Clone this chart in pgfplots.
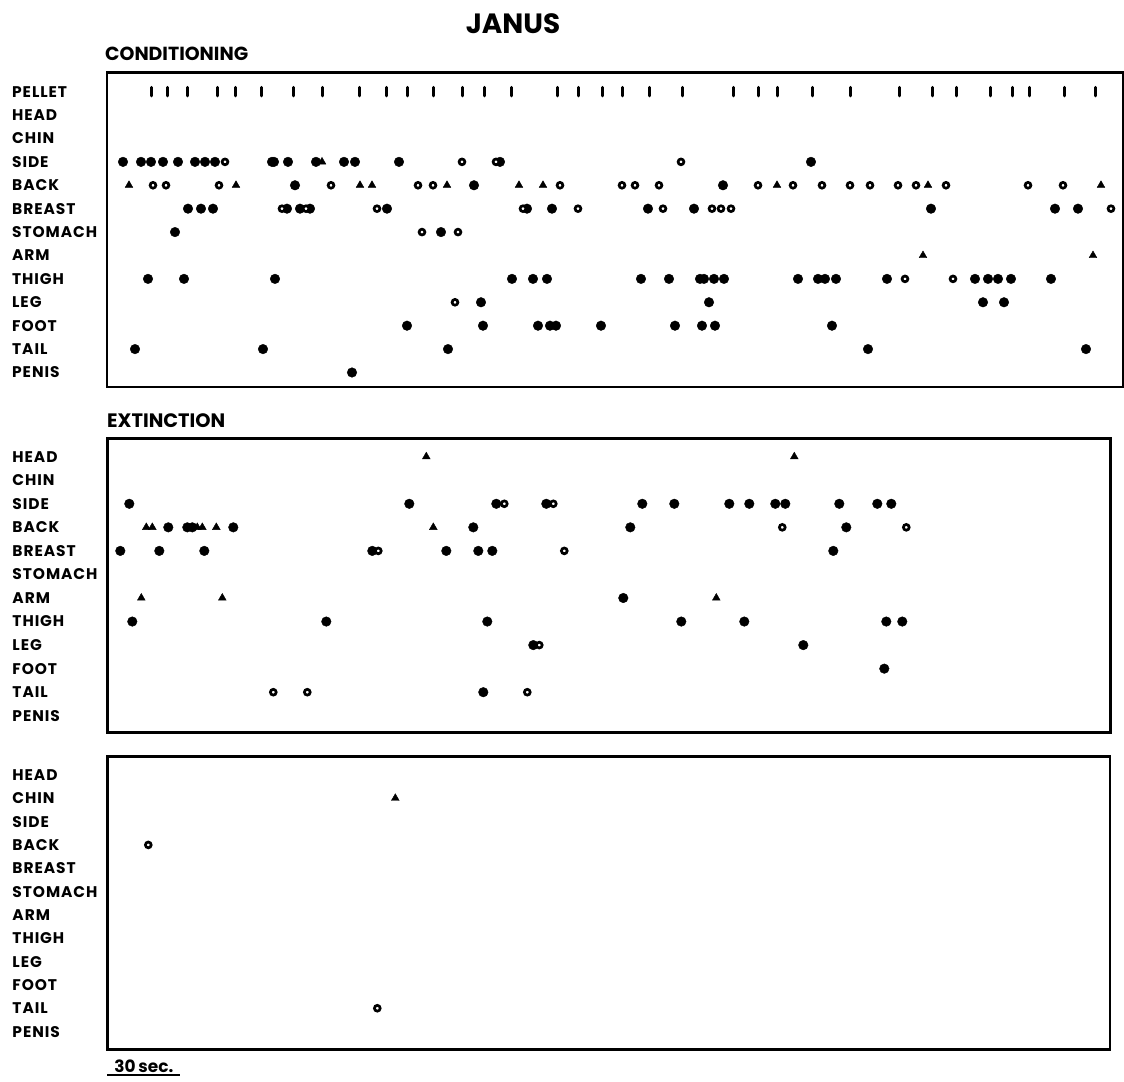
\documentclass[border=0pt]{standalone}
\usepackage{fontspec}
\setmainfont{Poppins}
\newfontfamily\labfont{Poppins}[LetterSpace=6]
\usepackage{pgfplots}
\pgfplotsset{compat=1.18}

\pgfplotsset{
  panel/.style={
    scale only axis, y dir=reverse, clip=false,
    axis line style={line width=2.6bp},
    xtick=\empty, major tick length=0pt,
    yticklabel style={anchor=west, inner sep=0pt, xshift=-95bp,
      font=\labfont\fontsize{15.5}{15.5}\selectfont\bfseries},
  },
  filled/.style={only marks, mark=*, mark size=4.8bp, black},
  open/.style={only marks, mark=*, mark size=2.9bp,
    mark options={fill=white, draw=black, line width=2.7bp}},
  tri/.style={only marks, mark=triangle*, mark size=4.5bp, black},
  pellet/.style={only marks, mark=|, mark size=4.2bp, line width=3bp,
    mark options={line width=3bp, line cap=round}, black},
}

\begin{document}
\begin{tikzpicture}
\useasboundingbox (0,0) rectangle (1124bp,-1082bp);

\node[anchor=base, font=\fontsize{28}{28}\selectfont\bfseries] at (513bp,-33bp) {JANUS};
\node[anchor=base west, inner sep=0pt, font=\fontsize{19}{19}\selectfont\bfseries] at (105bp,-60bp) {CONDITIONING};
\node[anchor=base west, inner sep=0pt, font=\fontsize{19.5}{19.5}\selectfont\bfseries] at (107bp,-427bp) {EXTINCTION};

% ---------------- Conditioning ----------------
\begin{axis}[panel, at={(107bp,-72.7bp)}, anchor=north west,
  width=1016bp, height=314.3bp,
  xmin=0, xmax=1016, ymin=-0.81, ymax=12.62,
  ytick={0,...,12},
  yticklabels={PELLET,HEAD,CHIN,SIDE,BACK,BREAST,STOMACH,ARM,THIGH,LEG,FOOT,TAIL,PENIS}]
\addplot[pellet] coordinates {(44,0)(60,0)(80,0)(110,0)(128,0)(154,0)(186,0)(215,0)(252,0)(279,0)(300,0)(326,0)(355,0)(377,0)(404,0)(450,0)(471,0)(495,0)(515,0)(542,0)(575,0)(626,0)(651,0)(670,0)(705,0)(743,0)(792,0)(825,0)(849,0)(883,0)(905,0)(922,0)(957,0)(988,0)};
\addplot[filled] coordinates {
(16,3)(34,3)(44,3)(56,3)(71,3)(88,3)(98,3)(108,3)(165,3)(167,3)(181,3)(209,3)(237,3)(248,3)(292,3)(393,3)(704,3)
(188,4)(367,4)(616,4)
(81,5)(94,5)(106,5)(180,5)(193,5)(203,5)(280,5)(420,5)(445,5)(541,5)(587,5)(824,5)(948,5)(971,5)
(68,6)(334,6)
(41,8)(77,8)(168,8)(405,8)(426,8)(440,8)(534,8)(562,8)(593,8)(597,8)(607,8)(617,8)(691,8)(711,8)(718,8)(729,8)(780,8)(868,8)(881,8)(891,8)(904,8)(944,8)
(374,9)(602,9)(876,9)(897,9)
(300,10)(376,10)(431,10)(443,10)(449,10)(494,10)(568,10)(595,10)(608,10)(725,10)
(28,11)(156,11)(341,11)(761,11)(979,11)
(245,12)};
\addplot[open] coordinates {
(118,3)(355,3)(389,3)(574,3)
(46,4)(59,4)(112,4)(224,4)(311,4)(326,4)(453,4)(515,4)(528,4)(552,4)(651,4)(686,4)(715,4)(743,4)(763,4)(791,4)(809,4)(839,4)(921,4)(956,4)
(175,5)(199,5)(270,5)(416,5)(471,5)(556,5)(605,5)(614,5)(624,5)(1004,5)
(315,6)(351,6)
(798,8)(846,8)
(348,9)};
\addplot[tri] coordinates {
(215,3)
(22,4)(129,4)(253,4)(265,4)(340,4)(412,4)(436,4)(670,4)(821,4)(994,4)
(816,7)(986,7)};
\end{axis}

% ---------------- Extinction ----------------
\begin{axis}[panel, at={(107.3bp,-438.3bp)}, anchor=north west,
  width=1003.4bp, height=294.4bp,
  xmin=0, xmax=1003.4, ymin=-0.78, ymax=11.72,
  ytick={0,...,11},
  yticklabels={HEAD,CHIN,SIDE,BACK,BREAST,STOMACH,ARM,THIGH,LEG,FOOT,TAIL,PENIS}]
\addplot[filled] coordinates {
(22,2)(302,2)(389,2)(439,2)(535,2)(567,2)(622,2)(642,2)(668,2)(678,2)(732,2)(770,2)(784,2)
(61,3)(80,3)(85,3)(126,3)(366,3)(523,3)(739,3)
(13,4)(52,4)(97,4)(265,4)(339,4)(371,4)(385,4)(726,4)
(516,6)
(25,7)(219,7)(380,7)(574,7)(637,7)(779,7)(795,7)
(426,8)(696,8)
(777,9)
(376,10)};
\addplot[open] coordinates {
(397,2)(446,2)
(675,3)(799,3)
(271,4)(457,4)
(432,8)
(166,10)(200,10)(420,10)};
\addplot[tri] coordinates {
(319,0)(687,0)
(39,3)(45,3)(90,3)(95,3)(109,3)(326,3)
(34,6)(115,6)(609,6)};
\end{axis}

% ---------------- Third panel ----------------
\begin{axis}[panel, at={(107.3bp,-756.7bp)}, anchor=north west,
  width=1002.7bp, height=292.6bp,
  xmin=0, xmax=1002.7, ymin=-0.78, ymax=11.76,
  ytick={0,...,11},
  yticklabels={HEAD,CHIN,SIDE,BACK,BREAST,STOMACH,ARM,THIGH,LEG,FOOT,TAIL,PENIS}]
\addplot[open] coordinates {(41,3)(270,10)};
\addplot[tri] coordinates {(288,1)};
% scale bar: 73 units = 30 sec
\draw[line width=2.2bp] (axis cs:0,12.85) -- (axis cs:73,12.85);
\node[anchor=south, inner sep=1.5bp, font=\fontsize{17}{17}\selectfont\bfseries] at (axis cs:36.5,12.85) {30\,sec.};
\end{axis}
\end{tikzpicture}
\end{document}
